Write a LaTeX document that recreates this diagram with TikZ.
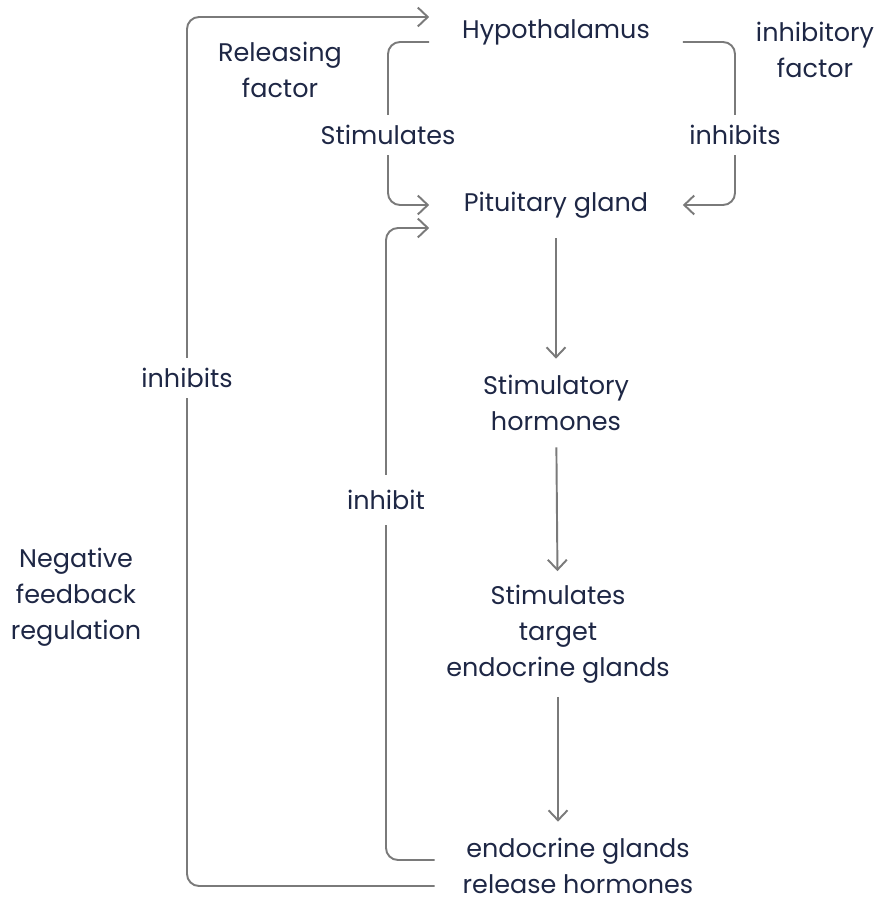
\documentclass[tikz,border=0pt]{standalone}
\usepackage{fontspec}
\setmainfont{Poppins}
\usetikzlibrary{arrows.meta}
\usetikzlibrary{positioning}

\definecolor{ink}{HTML}{1E2745}
\definecolor{wire}{HTML}{7A7A7A}

\begin{document}
\begin{tikzpicture}[x=0.02cm,y=-0.02cm,
	every node/.style={text=ink,font=\fontsize{14.5}{20.5}\selectfont,align=center},
	flow/.style={draw=wire,line width=1.1pt,rounded corners=2.4mm,
		-{Straight Barb[length=2mm,width=3.8mm]}},
	main node/.style={inner sep=0pt,minimum width=5.06cm},
	tag/.style={inner xsep=1pt,inner ysep=0.2cm}]

	\useasboundingbox (0,0) rectangle (879,902);

	% main chain
	\node[main node,minimum height=0.8cm] (hypo) at (556,32) {Hypothalamus};
	\node[main node,minimum height=1.32cm] (pit) at (556,205) {Pituitary gland};
	\node[main node,minimum height=1.76cm] (horm) at (556,403) {Stimulatory\\hormones};
	\node[main node,minimum height=2.5cm] (target) at (558,634) {Stimulates\\target\\endocrine glands};
	\node[main node,minimum width=5.72cm,minimum height=1.76cm] (release) at (578,866) {endocrine glands\\release hormones};

	% side labels
	\node (relfac) at (280,70) {Releasing\\factor};
	\node (inhfac) at (815,50) {inhibitory\\factor};
	\node (negfb) at (76,597) {Negative\\feedback\\regulation};

	% labels sitting on the loops
	\node[tag] (stimtag) at (388,135) {Stimulates};
	\node[tag] (inhtag) at (735,135) {inhibits};
	\node[tag] (outtag) at (187,378) {inhibits};
	\node[tag,inner ysep=0.3cm] (intag) at (386,500) {inhibit};

	\draw[flow] ([yshift=-0.2cm]hypo.west) -| (stimtag) |- (pit.west);
	\draw[flow] ([yshift=-0.2cm]hypo.east) -| (inhtag) |- (pit.east);
	\draw[flow] (pit) -- (horm);
	\draw[flow] (horm) -- (target);
	\draw[flow] (target.south) -- (target.south |- release.north);
	\draw[flow] ([yshift=0.12cm]release.west) -| (intag) |- ([yshift=-0.46cm]pit.west);
	\draw[flow] ([yshift=-0.4cm]release.west) -| (outtag) |- ([yshift=0.3cm]hypo.west);
\end{tikzpicture}
\end{document}
